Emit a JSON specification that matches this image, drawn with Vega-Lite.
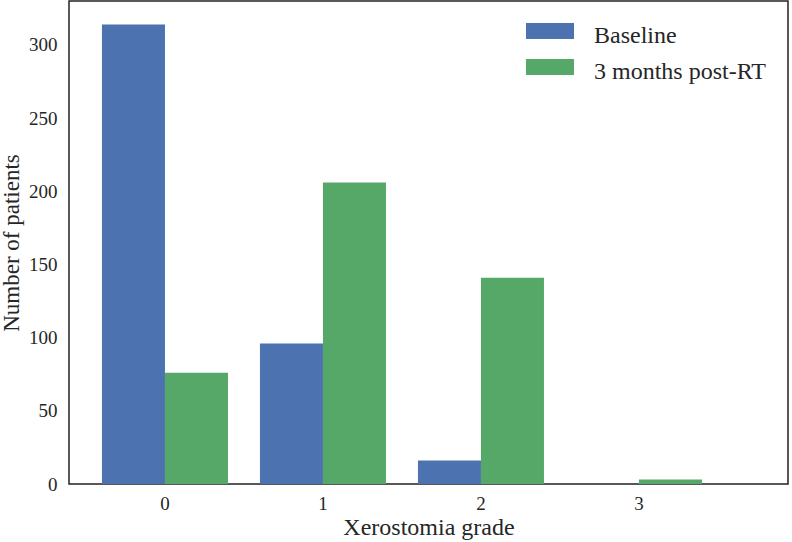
{
  "$schema": "https://vega.github.io/schema/vega-lite/v6.json",
  "width": 719,
  "height": 483,
  "autosize": {"type": "none"},
  "padding": {"left": 69, "top": 1, "right": 4, "bottom": 58},
  "background": "white",
  "config": {
    "font": "Liberation Serif",
    "view": {"stroke": "#222222", "strokeWidth": 1.5},
    "axis": {"grid": false, "ticks": false, "domain": false, "labelColor": "#262626", "titleColor": "#262626", "labelFont": "Liberation Serif", "titleFont": "Liberation Serif", "titleFontWeight": "normal"}
  },
  "data": {
    "values": [
      {"grade": "0", "group": "Baseline", "count": 314},
      {"grade": "0", "group": "3 months post-RT", "count": 76},
      {"grade": "1", "group": "Baseline", "count": 96},
      {"grade": "1", "group": "3 months post-RT", "count": 206},
      {"grade": "2", "group": "Baseline", "count": 16},
      {"grade": "2", "group": "3 months post-RT", "count": 141},
      {"grade": "3", "group": "Baseline", "count": 0},
      {"grade": "3", "group": "3 months post-RT", "count": 3}
    ]
  },
  "mark": {"type": "bar"},
  "encoding": {
    "x": {
      "field": "grade", "type": "nominal",
      "scale": {"paddingInner": 0.2025, "paddingOuter": 0.3766, "align": 0.277},
      "axis": {"labelAngle": 0, "labelFontSize": 19, "labelPadding": 10, "title": "Xerostomia grade", "titleFontSize": 24, "titlePadding": 2}
    },
    "xOffset": {"field": "group", "type": "nominal", "sort": ["Baseline", "3 months post-RT"], "scale": {"paddingInner": 0, "paddingOuter": 0}},
    "y": {
      "field": "count", "type": "quantitative",
      "scale": {"domain": [0, 330], "nice": false},
      "axis": {"values": [0, 50, 100, 150, 200, 250, 300], "labelFontSize": 19, "labelPadding": 12, "title": "Number of patients", "titleFontSize": 23, "titlePadding": 5}
    },
    "color": {
      "field": "group", "type": "nominal",
      "sort": ["Baseline", "3 months post-RT"],
      "scale": {"domain": ["Baseline", "3 months post-RT"], "range": ["#4C72B0", "#55A868"]},
      "legend": {
        "title": null, "orient": "none", "legendX": 469, "legendY": 23,
        "symbolType": "M-4,-2.167L4,-2.167L4,0.5L-4,0.5Z",
        "symbolSize": 144, "symbolStrokeWidth": 0, "symbolOpacity": 1,
        "labelFontSize": 24, "labelColor": "#262626", "labelOffset": 32, "labelLimit": 0,
        "rowPadding": 10, "padding": 0
      }
    }
  }
}
